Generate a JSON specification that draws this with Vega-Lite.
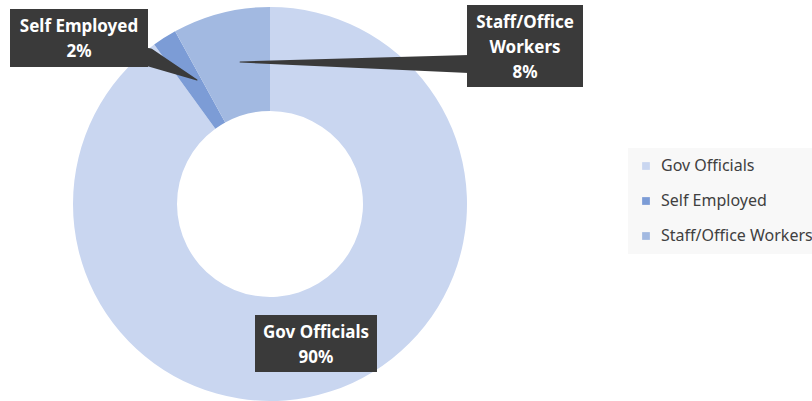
{
  "$schema": "https://vega.github.io/schema/vega-lite/v6.json",
  "width": 540,
  "height": 408,
  "padding": 0,
  "autosize": {"type": "pad"},
  "background": "white",
  "config": {"view": {"stroke": null}, "font": "Noto Sans"},
  "datasets": {
    "shares": [
      {"category": "Gov Officials", "share": 90, "order": 1},
      {"category": "Self Employed", "share": 2, "order": 2},
      {"category": "Staff/Office Workers", "share": 8, "order": 3}
    ],
    "callouts": [
      {"category": "Self Employed", "x1": -260, "x2": -122, "y1": 195, "y2": 137, "tx": -191, "ty": 177, "label": "Self Employed\n2%"},
      {"category": "Staff/Office Workers", "x1": 197, "x2": 313, "y1": 199, "y2": 117, "tx": 255, "ty": 181, "label": "Staff/Office\nWorkers\n8%"},
      {"category": "Gov Officials", "x1": -15, "x2": 107, "y1": -111, "y2": -168, "tx": 46, "ty": -129, "label": "Gov Officials\n90%"}
    ],
    "pointers": [
      {"callout": "Self Employed", "px": -122, "py": 147, "end": 0},
      {"callout": "Self Employed", "px": -73, "py": 124, "end": 1},
      {"callout": "Staff/Office Workers", "px": 199, "py": 140, "end": 0},
      {"callout": "Staff/Office Workers", "px": -30, "py": 142, "end": 1}
    ]
  },
  "layer": [
    {
      "data": {"name": "shares"},
      "mark": {"type": "arc", "innerRadius": 93, "outerRadius": 197, "strokeWidth": 0},
      "encoding": {
        "theta": {"field": "share", "type": "quantitative", "stack": true},
        "order": {"field": "order", "type": "quantitative", "sort": "ascending"},
        "color": {
          "field": "category",
          "type": "nominal",
          "scale": {
            "domain": ["Gov Officials", "Self Employed", "Staff/Office Workers"],
            "range": ["#c9d6f0", "#7c9cd6", "#a2b9e1"]
          },
          "legend": {
            "title": null,
            "orient": "none",
            "legendX": 628,
            "legendY": 148,
            "padding": 10,
            "fillColor": "#f8f8f8",
            "symbolType": "square",
            "symbolSize": 60,
            "symbolStrokeWidth": 0,
            "labelFont": "Noto Sans",
            "labelFontSize": 16,
            "labelColor": "#404040",
            "labelOffset": 7,
            "rowPadding": 19
          }
        }
      }
    },
    {
      "data": {"name": "pointers"},
      "mark": {"type": "trail", "color": "#3a3a3a"},
      "encoding": {
        "x": {"field": "px", "type": "quantitative", "scale": {"domain": [-270, 270], "nice": false, "zero": false}, "axis": null},
        "y": {"field": "py", "type": "quantitative", "scale": {"domain": [-204, 204], "nice": false, "zero": false}, "axis": null},
        "detail": {"field": "callout", "type": "nominal"},
        "order": {"field": "end", "type": "quantitative"},
        "size": {"field": "end", "type": "quantitative", "scale": {"domain": [0, 1], "range": [18, 1]}, "legend": null}
      }
    },
    {
      "data": {"name": "callouts"},
      "mark": {"type": "rect", "color": "#3a3a3a"},
      "encoding": {
        "x": {"field": "x1", "type": "quantitative", "scale": {"domain": [-270, 270], "nice": false, "zero": false}, "axis": null},
        "x2": {"field": "x2"},
        "y": {"field": "y1", "type": "quantitative", "scale": {"domain": [-204, 204], "nice": false, "zero": false}, "axis": null},
        "y2": {"field": "y2"}
      }
    },
    {
      "data": {"name": "callouts"},
      "mark": {"type": "text", "color": "white", "font": "Noto Sans", "fontSize": 17, "fontWeight": "bold", "align": "center", "baseline": "middle", "lineBreak": "\n", "lineHeight": 25},
      "encoding": {
        "x": {"field": "tx", "type": "quantitative", "scale": {"domain": [-270, 270], "nice": false, "zero": false}, "axis": null},
        "y": {"field": "ty", "type": "quantitative", "scale": {"domain": [-204, 204], "nice": false, "zero": false}, "axis": null},
        "text": {"field": "label", "type": "nominal"}
      }
    }
  ]
}
